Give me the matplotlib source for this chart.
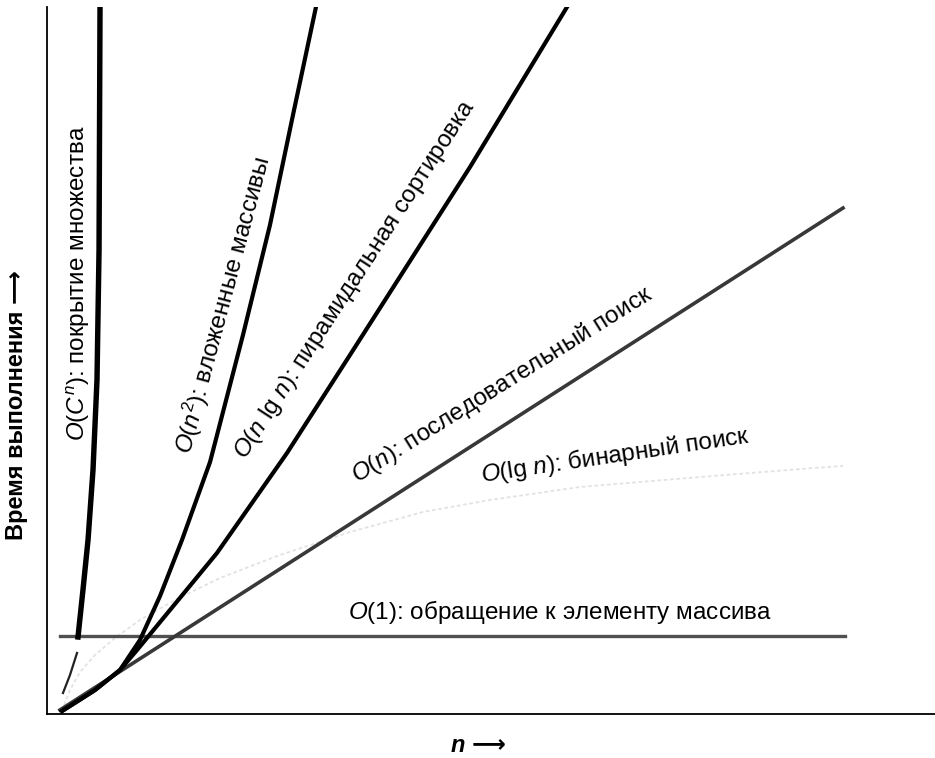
import matplotlib
matplotlib.use("Agg")
import matplotlib.pyplot as plt

plt.rcParams['font.family'] = ['Liberation Sans', 'DejaVu Sans']
plt.rcParams['mathtext.fontset'] = 'custom'
plt.rcParams['mathtext.rm'] = 'Liberation Sans'
plt.rcParams['mathtext.it'] = 'Liberation Sans:italic'
plt.rcParams['mathtext.bf'] = 'Liberation Sans:bold'

# curves (n on x, run time on y, both 0..100)
# first three exp points are the thin broken piece under the O(1) line
exp_x = [1.80, 2.59, 3.38, 3.49, 4.05, 4.62, 5.18, 5.63, 5.86, 5.97]
exp_y = [2.97, 5.52, 8.63, 10.89, 17.54, 24.61, 34.51, 47.24, 65.63, 100]

sq_x = [1.69, 5.41, 8.22, 10.47, 12.73, 15.20, 18.36, 22.07, 25.11, 27.70, 30.29]
sq_y = [0.42, 3.39, 6.22, 10.47, 16.69, 24.61, 35.64, 53.61, 69.17, 84.72, 100]

nlog_x = [1.69, 5.41, 8.22, 10.14, 14.41, 19.14, 27.03, 34.12, 47.64, 58.56]
nlog_y = [0.42, 3.39, 6.22, 9.05, 15.56, 22.77, 36.92, 50.78, 77.37, 100]

lin_x = [1.46, 89.64]
lin_y = [0.57, 71.57]

log_x = [1.69, 2.59, 3.72, 5.41, 7.66, 10.47, 14.41, 19.48, 26.24, 34.12, 42.34, 49.89,
         60.02, 73.54, 86.26, 89.64]
log_y = [0.42, 3.39, 5.94, 8.35, 10.75, 13.30, 16.12, 19.24, 22.49, 25.74, 28.57, 30.27,
         32.11, 33.52, 34.79, 35.08]

const_x = [1.46, 89.86]
const_y = [11.1, 11.1]

labels = [
    '$O$($C^n$): покрытие множества',
    '$O$($n^2$): вложенные массивы',
    '$O$($n$ lg $n$): пирамидальная сортировка',
    '$O$($n$): последовательный поиск',
    '$O$(lg $n$): бинарный поиск',
    '$O$(1): обращение к элементу массива',
]
label_x = [3.49, 19.82, 34.68, 51.24, 63.96, 57.77]
label_y = [60.96, 57.85, 61.39, 46.53, 36.63, 14.43]
label_rot = [90, 75, 57, 32, 8.4, 0]

fig = plt.figure(figsize=(9.35, 7.58), dpi=100)
ax = fig.add_axes([47 / 935, 44 / 758, 888 / 935, 707 / 758])

ax.plot(log_x, log_y, color='#e2e2e2', lw=1.3, ls=(0, (2, 1.5)))
ax.plot(const_x, const_y, color='#505050', lw=2.4)
ax.plot(lin_x, lin_y, color='#383838', lw=2.6)
ax.plot(nlog_x, nlog_y, color='black', lw=3.0, solid_joinstyle='round')
ax.plot(sq_x, sq_y, color='black', lw=3.0, solid_joinstyle='round')
ax.plot(exp_x[:3], exp_y[:3], color='#222222', lw=1.6)
ax.plot(exp_x[3:], exp_y[3:], color='black', lw=3.9, solid_joinstyle='round')

for t, x, y, r in zip(labels, label_x, label_y, label_rot):
    ax.text(x, y, t, rotation=r, rotation_mode='anchor', ha='center', va='center',
            fontsize=17.5, color='black')

ax.set_xlim(0, 100)
ax.set_ylim(0, 100)
ax.set_xticks([])
ax.set_yticks([])
for s in ['top', 'right']:
    ax.spines[s].set_visible(False)
for s in ['left', 'bottom']:
    ax.spines[s].set_linewidth(1.3)

fig.text(17 / 935, 1 - 405 / 758, 'Время выполнения ⟶', rotation=90, ha='center', va='center',
         fontsize=17, fontweight='bold')
fig.text(478 / 935, 1 - 745 / 758, 'n ⟶', ha='center', va='center', fontsize=17,
         fontweight='bold', fontstyle='italic')

fig.savefig('out.png', dpi=100)
